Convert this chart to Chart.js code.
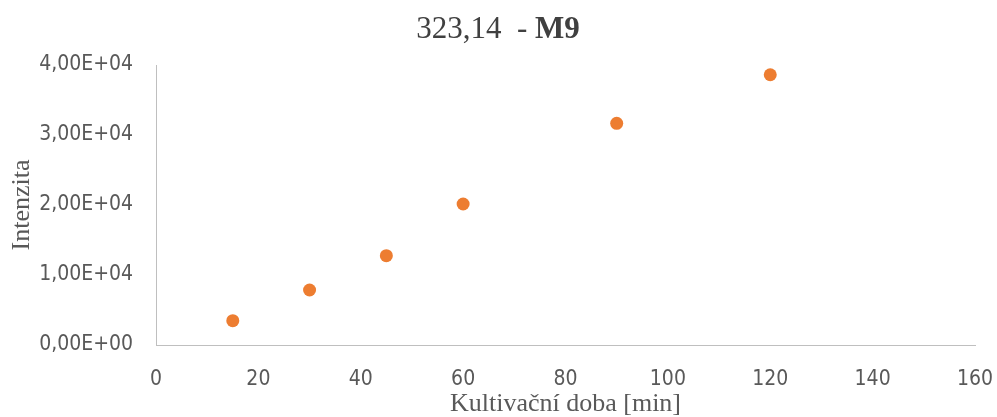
<!DOCTYPE html>
<html>
<head>
<meta charset="utf-8">
<script src="https://cdn.jsdelivr.net/npm/chart.js@4/dist/chart.umd.min.js"></script>
<style>
  html, body { margin: 0; padding: 0; background: #ffffff; }
  canvas { display: block; }
</style>
</head>
<body>
<canvas id="chart" width="997" height="417"></canvas>
<script>
// Cultivation time (min) and measured intensity for the 323,14 ion in M9 medium
const cultivationTimes = [15, 30, 45, 60, 90, 120];
const intensities = [3470, 7860, 12760, 20140, 31670, 38610];

const titleNumber = '323,14  - ';
const titleMedium = 'M9';
const xAxisTitle = 'Kultivační doba [min]';
const yAxisTitle = 'Intenzita';

const xMin = 0, xMax = 160, xStep = 20;
const yMin = 0, yMax = 40000, yStep = 10000;

// Format like "4,00E+04" (decimal comma, two-digit exponent)
function sciLabel(v) {
  if (v === 0) return '0,00E+00';
  const exp = Math.floor(Math.log10(Math.abs(v)));
  const mant = v / Math.pow(10, exp);
  const sign = exp < 0 ? '-' : '+';
  return mant.toFixed(2).replace('.', ',') + 'E' + sign + String(Math.abs(exp)).padStart(2, '0');
}

// Title with a bold medium name, drawn centred above the plot
const mixedTitle = {
  id: 'mixedTitle',
  afterDraw(chart) {
    const ctx = chart.ctx;
    ctx.save();
    const fNormal = '31px "Liberation Serif", "Times New Roman", serif';
    const fBold = 'bold 31px "Liberation Serif", "Times New Roman", serif';
    ctx.font = fNormal;
    const w1 = ctx.measureText(titleNumber).width;
    ctx.font = fBold;
    const w2 = ctx.measureText(titleMedium).width;
    const cx = 498;
    let x = cx - (w1 + w2) / 2;
    const y = 38;
    ctx.fillStyle = '#404040';
    ctx.textBaseline = 'alphabetic';
    ctx.textAlign = 'left';
    ctx.font = fNormal;
    ctx.fillText(titleNumber, x, y);
    ctx.font = fBold;
    ctx.fillText(titleMedium, x + w1, y);
    ctx.restore();
  }
};

const tickFont = { family: '"Liberation Sans Narrow", "DejaVu Sans Condensed", "Liberation Sans", sans-serif', size: 21 };
const axisTitleFont = { family: '"Liberation Serif", "Times New Roman", serif', size: 26, lineHeight: 1.0 };

new Chart(document.getElementById('chart'), {
  type: 'scatter',
  data: {
    datasets: [{
      label: titleMedium,
      data: cultivationTimes.map((t, i) => ({ x: t, y: intensities[i] })),
      backgroundColor: '#ED7D31',
      borderWidth: 0,
      pointRadius: 6.5,
      pointHoverRadius: 6.5
    }]
  },
  options: {
    responsive: false,
    animation: false,
    devicePixelRatio: 1,
    layout: { padding: { top: 65, right: 22, left: 0, bottom: 0 } },
    plugins: {
      legend: { display: false },
      tooltip: { enabled: false },
      title: { display: false }
    },
    scales: {
      x: {
        type: 'linear',
        min: xMin, max: xMax,
        grid: { display: false, drawTicks: false },
        border: { display: true, color: '#bfbfbf', width: 1 },
        ticks: { stepSize: xStep, color: '#595959', font: tickFont, padding: 22, maxRotation: 0 },
        title: { display: true, text: xAxisTitle, color: '#595959', font: axisTitleFont, padding: 0 },
        afterFit(scale) {
          scale.height = 72;
          scale.paddingLeft = 0;
          scale.paddingRight = 0;
        }
      },
      y: {
        type: 'linear',
        min: yMin, max: yMax,
        grid: { display: false, drawTicks: false },
        border: { display: true, color: '#bfbfbf', width: 1 },
        ticks: { stepSize: yStep, color: '#595959', font: tickFont, padding: 23, callback: v => sciLabel(v) },
        title: { display: true, text: yAxisTitle, color: '#595959', font: axisTitleFont, padding: { top: 9, bottom: 0 } },
        afterFit(scale) { scale.width = 156; }
      }
    }
  },
  plugins: [mixedTitle]
});
</script>
</body>
</html>
